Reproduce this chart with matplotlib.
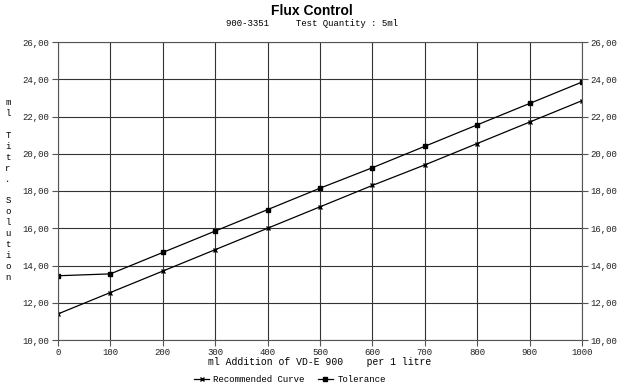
import matplotlib
matplotlib.use('agg')
import matplotlib.pyplot as plt
from matplotlib.ticker import FuncFormatter

# data
x_vals = [0, 100, 200, 300, 400, 500, 600, 700, 800, 900, 1000]
recommended = [11.4, 12.55, 13.7, 14.85, 16.0, 17.15, 18.3, 19.4, 20.55, 21.7, 22.85]
tolerance = [13.45, 13.55, 14.7, 15.85, 17.0, 18.15, 19.25, 20.4, 21.55, 22.7, 23.85]

mono = 'Liberation Mono'
comma_fmt = FuncFormatter(lambda v, p: ('%.2f' % v).replace('.', ','))

fig = plt.figure(figsize=(6.23, 3.9), dpi=100)
ax = fig.add_axes([58 / 623, 1 - 340 / 390, 524 / 623, 298 / 390])

ax.plot(x_vals, recommended, color='black', lw=0.9, marker='x', ms=2.8, mew=1.0,
        label='Recommended Curve')
ax.plot(x_vals, tolerance, color='black', lw=0.9, marker='s', ms=2.5,
        label='Tolerance')

ax.set_xlim(0, 1000)
ax.set_ylim(10, 26)
ax.set_xticks(range(0, 1001, 100))
ax.set_yticks(range(10, 27, 2))
ax.yaxis.set_major_formatter(comma_fmt)
ax.grid(True, color='#333333', lw=0.8)
for s in ax.spines.values():
    s.set_color('#555555')
    s.set_linewidth(0.8)

ax.tick_params(length=4, width=0.8, color='#555555', labelsize=6.5, pad=2,
               labelcolor='#222222')
ax.tick_params(axis='y', right=True, labelright=True)
for lab in ax.get_xticklabels() + ax.yaxis.get_ticklabels(which='both'):
    lab.set_family(mono)

fig.text(0.5, 1 - 11 / 390, 'Flux Control', ha='center', va='center',
         family='Liberation Sans', weight='bold', fontsize=10)
fig.text(0.5, 1 - 24 / 390, '900-3351     Test Quantity : 5ml', ha='center',
         va='center', family=mono, fontsize=6.5)

fig.text(0.5 * (58 + 582) / 623, 1 - 362 / 390,
         'ml Addition of VD-E 900    per 1 litre', ha='center', va='center',
         family=mono, fontsize=7)

ylabel = '\n'.join('ml Titr. Solution')
fig.text(8 / 623, 1 - 190 / 390, ylabel, ha='center', va='center',
         family=mono, fontsize=6.5, linespacing=1.27)

leg = fig.legend(loc='center', bbox_to_anchor=(290 / 623, 1 - 380 / 390),
                 ncol=2, frameon=False, prop={'family': mono, 'size': 6.5},
                 handlelength=1.6, columnspacing=1.5, handletextpad=0.5)

fig.savefig('out.png', dpi=100)
